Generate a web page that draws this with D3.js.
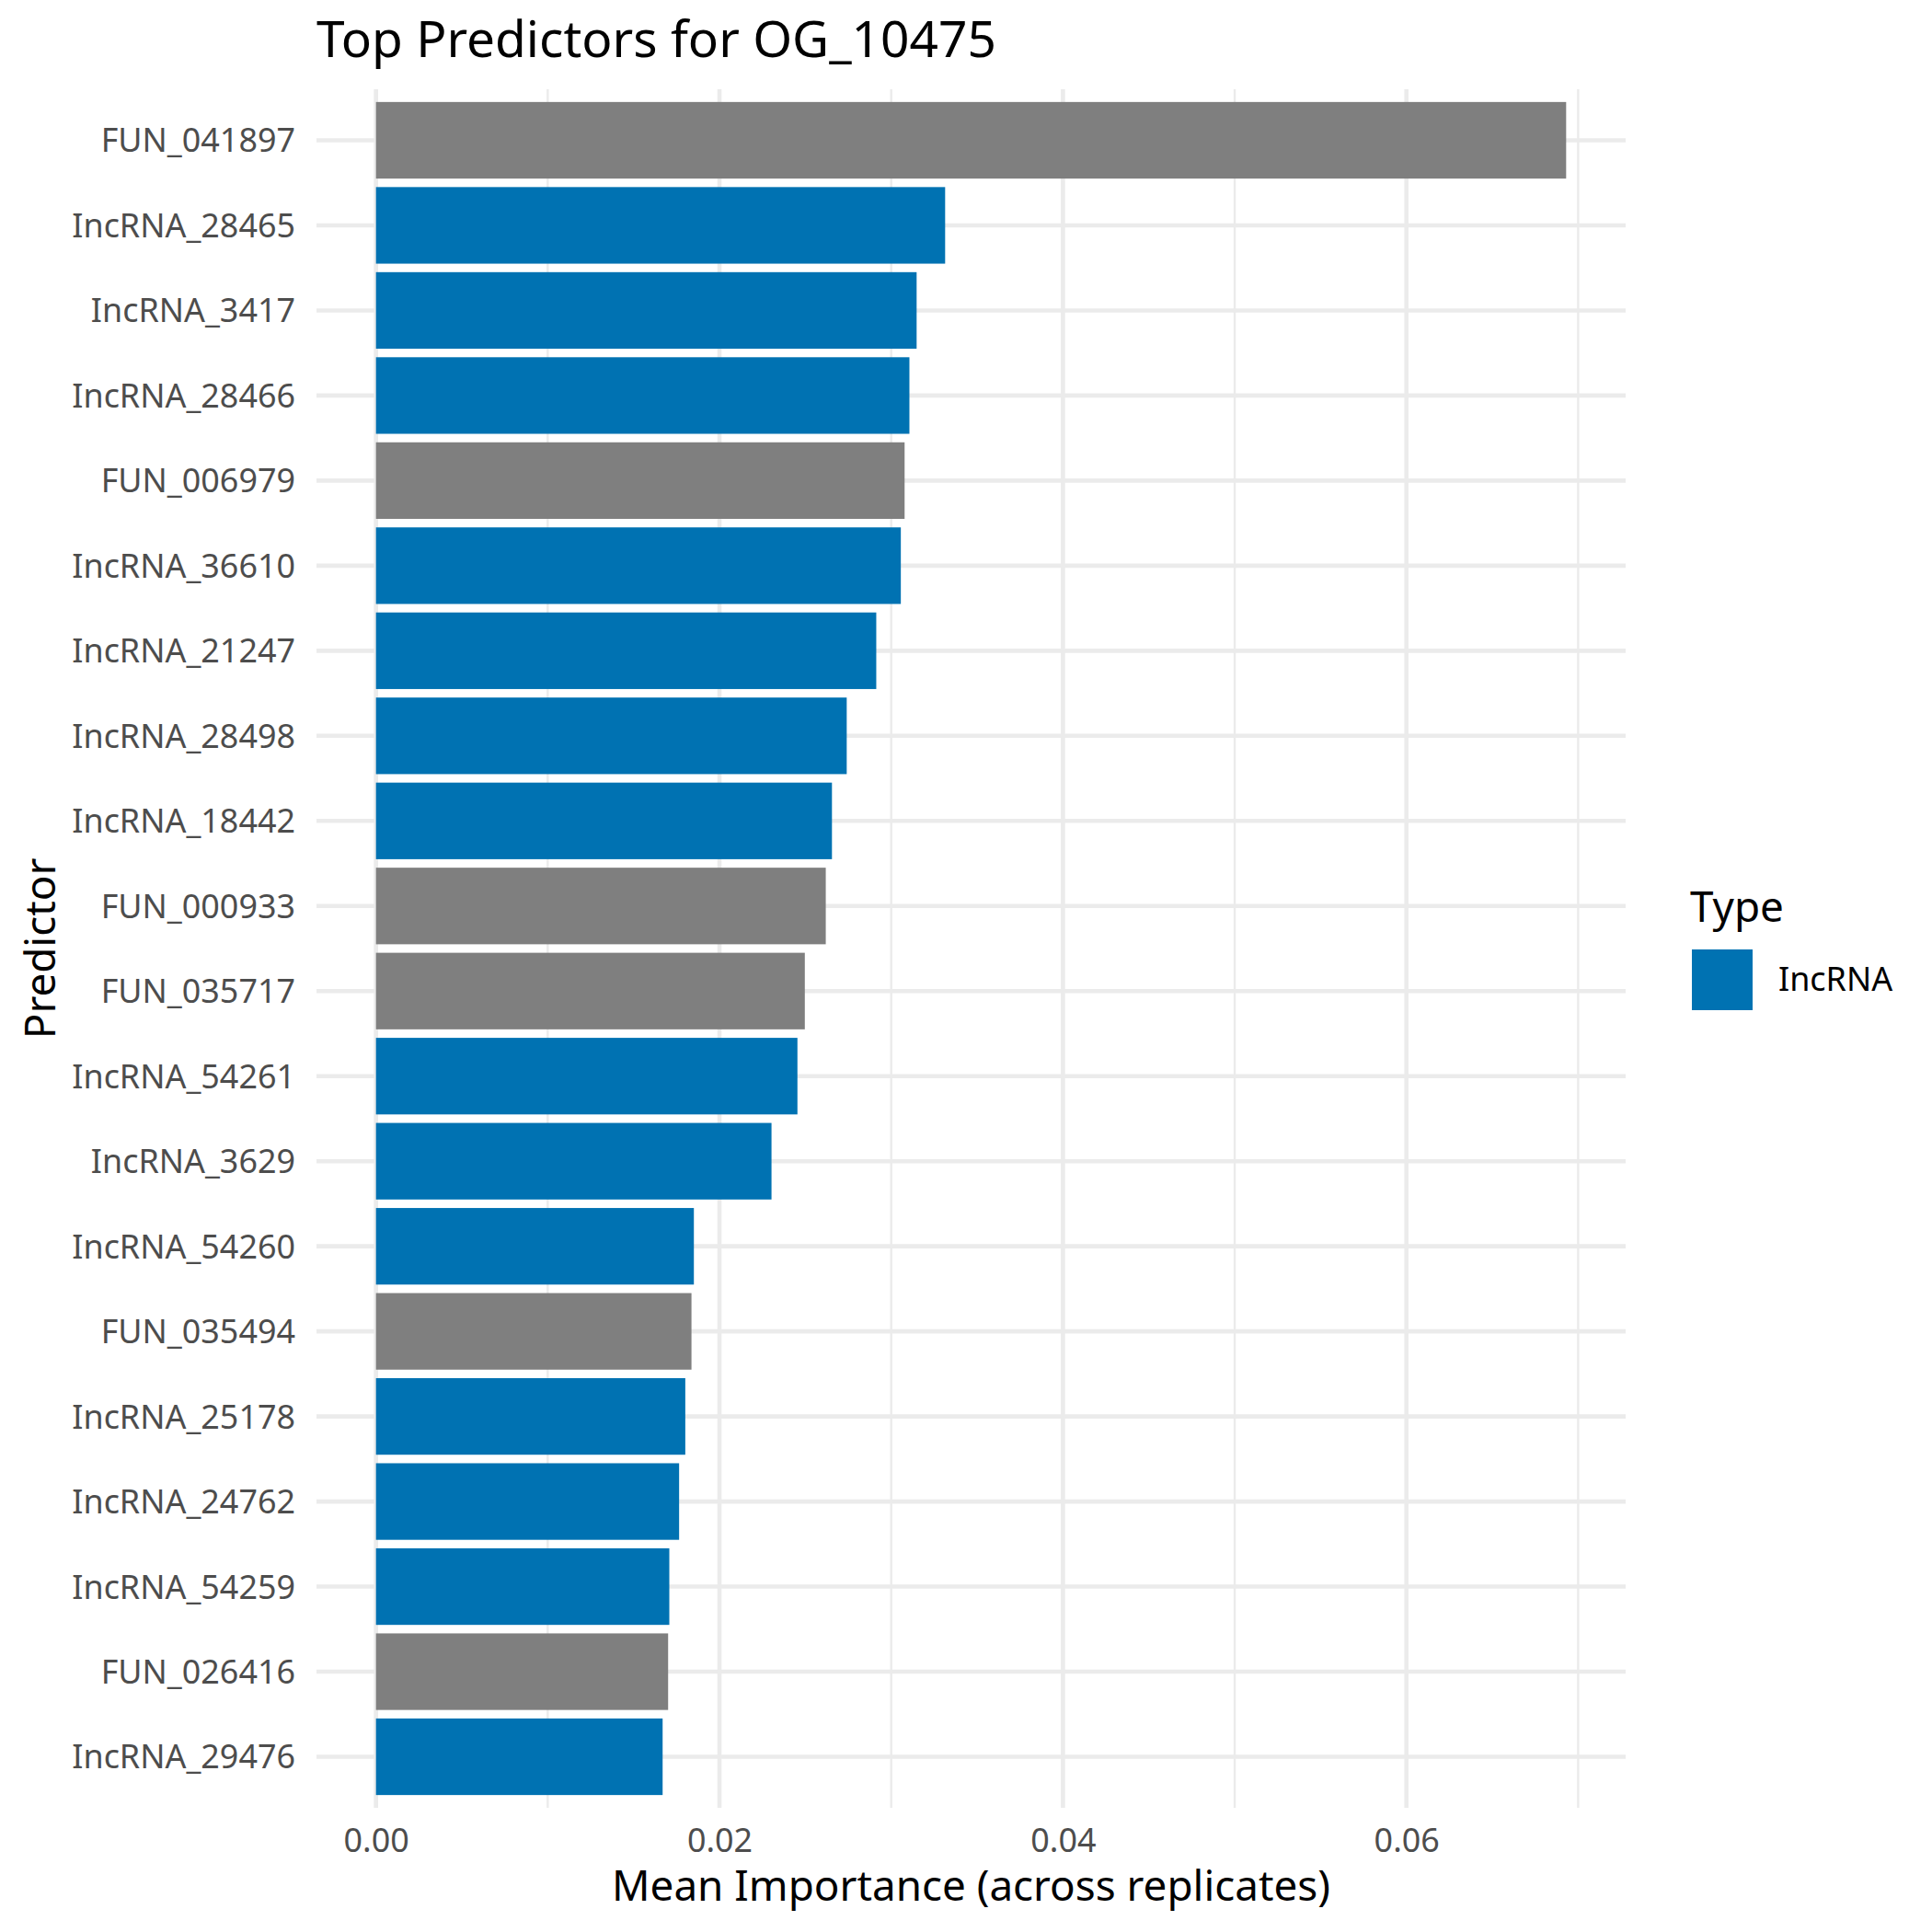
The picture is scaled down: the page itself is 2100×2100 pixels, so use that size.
<!DOCTYPE html>
<html><head><meta charset="utf-8">
<script src="https://cdn.jsdelivr.net/npm/d3@7"></script>
<style>body{margin:0;background:#fff}svg{display:block}text{font-family:"Noto Sans","Open Sans",sans-serif}</style>
</head><body>
<script>
const categories = ["FUN_041897","lncRNA_28465","lncRNA_3417","lncRNA_28466","FUN_006979","lncRNA_36610","lncRNA_21247","lncRNA_28498","lncRNA_18442","FUN_000933","FUN_035717","lncRNA_54261","lncRNA_3629","lncRNA_54260","FUN_035494","lncRNA_25178","lncRNA_24762","lncRNA_54259","FUN_026416","lncRNA_29476"];
const labels = ["FUN_041897","IncRNA_28465","IncRNA_3417","IncRNA_28466","FUN_006979","IncRNA_36610","IncRNA_21247","IncRNA_28498","IncRNA_18442","FUN_000933","FUN_035717","IncRNA_54261","IncRNA_3629","IncRNA_54260","FUN_035494","IncRNA_25178","IncRNA_24762","IncRNA_54259","FUN_026416","IncRNA_29476"];
const values = [0.0693,0.03314,0.03148,0.03106,0.03078,0.03056,0.02913,0.02741,0.02655,0.02619,0.02497,0.02454,0.02303,0.01851,0.01837,0.01801,0.01765,0.01708,0.01701,0.01669];
const types = ["FUN","lncRNA","lncRNA","lncRNA","FUN","lncRNA","lncRNA","lncRNA","lncRNA","FUN","FUN","lncRNA","lncRNA","lncRNA","FUN","lncRNA","lncRNA","lncRNA","FUN","lncRNA"];
const majorTicks = [0, 0.02, 0.04, 0.06];
const minorTicks = [0.01, 0.03, 0.05, 0.07];
const tickLabels = ["0.00","0.02","0.04","0.06"];
const legendItems = ["IncRNA"];

const W = 2100, H = 2100;
const P = {left: 344, right: 1767, top: 97, bottom: 1965};
const svg = d3.select("body").append("svg").attr("width", W).attr("height", H);
const maxV = d3.max(values);
const x = d3.scaleLinear().domain([-0.05*maxV, maxV*1.05]).range([P.left, P.right]);
const y = d3.scaleBand().domain(categories).range([P.top, P.bottom]).paddingInner(0.1).paddingOuter(0.15);
const color = d3.scaleOrdinal().domain(["lncRNA","FUN"]).range(["#0072B2","#7F7F7F"]);
const grid = "#EBEBEB";

const g = svg.append("g");
g.selectAll("line.minor").data(minorTicks).join("line")
  .attr("x1", d=>x(d)).attr("x2", d=>x(d)).attr("y1", P.top).attr("y2", P.bottom)
  .attr("stroke", grid).attr("stroke-width", 2.4);
g.selectAll("line.majx").data(majorTicks).join("line")
  .attr("x1", d=>x(d)).attr("x2", d=>x(d)).attr("y1", P.top).attr("y2", P.bottom)
  .attr("stroke", grid).attr("stroke-width", 4.6);
g.selectAll("line.majy").data(categories).join("line")
  .attr("x1", P.left).attr("x2", P.right).attr("y1", d=>y(d)+y.bandwidth()/2).attr("y2", d=>y(d)+y.bandwidth()/2)
  .attr("stroke", grid).attr("stroke-width", 4.6);

svg.append("g").selectAll("rect").data(categories).join("rect")
  .attr("x", x(0)).attr("y", d=>y(d))
  .attr("width", (d,i)=>x(values[i]) - x(0)).attr("height", y.bandwidth())
  .attr("fill", (d,i)=>color(types[i]));

// y axis labels
const ya = svg.append("g").attr("transform", `translate(${P.left - 23},0)`)
  .call(d3.axisLeft(y).tickSize(0).tickPadding(0).tickFormat((d,i)=>labels[i]));
ya.select(".domain").remove();
ya.selectAll("text").attr("font-size", 35.9).attr("fill", "#4D4D4D")
  .attr("font-family", '"Noto Sans","Open Sans",sans-serif').attr("dy", "0.36em");

// x axis labels
const xa = svg.append("g").attr("transform", `translate(0,${P.bottom})`)
  .call(d3.axisBottom(x).tickValues(majorTicks).tickSize(0).tickPadding(0).tickFormat((d,i)=>tickLabels[i]));
xa.select(".domain").remove();
xa.selectAll("text").attr("font-size", 35.9).attr("fill", "#4D4D4D")
  .attr("font-family", '"Noto Sans","Open Sans",sans-serif').attr("dy", "0").attr("y", 48);

// titles
svg.append("text").attr("x", P.left).attr("y", 62).attr("font-size", 55).attr("fill", "#000")
  .text("Top Predictors for OG_10475");
svg.append("text").attr("x", (P.left+P.right)/2).attr("y", 2066).attr("text-anchor", "middle")
  .attr("font-size", 45.8).attr("fill", "#000").text("Mean Importance (across replicates)");
svg.append("text").attr("transform", `translate(60,${(P.top+P.bottom)/2}) rotate(-90)`)
  .attr("text-anchor", "middle").attr("font-size", 45.8).attr("fill", "#000").text("Predictor");

// legend
const lg = svg.append("g");
lg.append("text").attr("x", 1837).attr("y", 1002).attr("font-size", 45.8).attr("fill", "#000").text("Type");
lg.selectAll("rect").data(legendItems).join("rect")
  .attr("x", 1839).attr("y", (d,i)=>1032 + i*72).attr("width", 66).attr("height", 66)
  .attr("fill", color("lncRNA"));
lg.selectAll("text.item").data(legendItems).join("text").attr("class","item")
  .attr("x", 1933).attr("y", (d,i)=>1077 + i*72).attr("font-size", 35.9).attr("fill", "#000").text(d=>d);
</script>
</body></html>
